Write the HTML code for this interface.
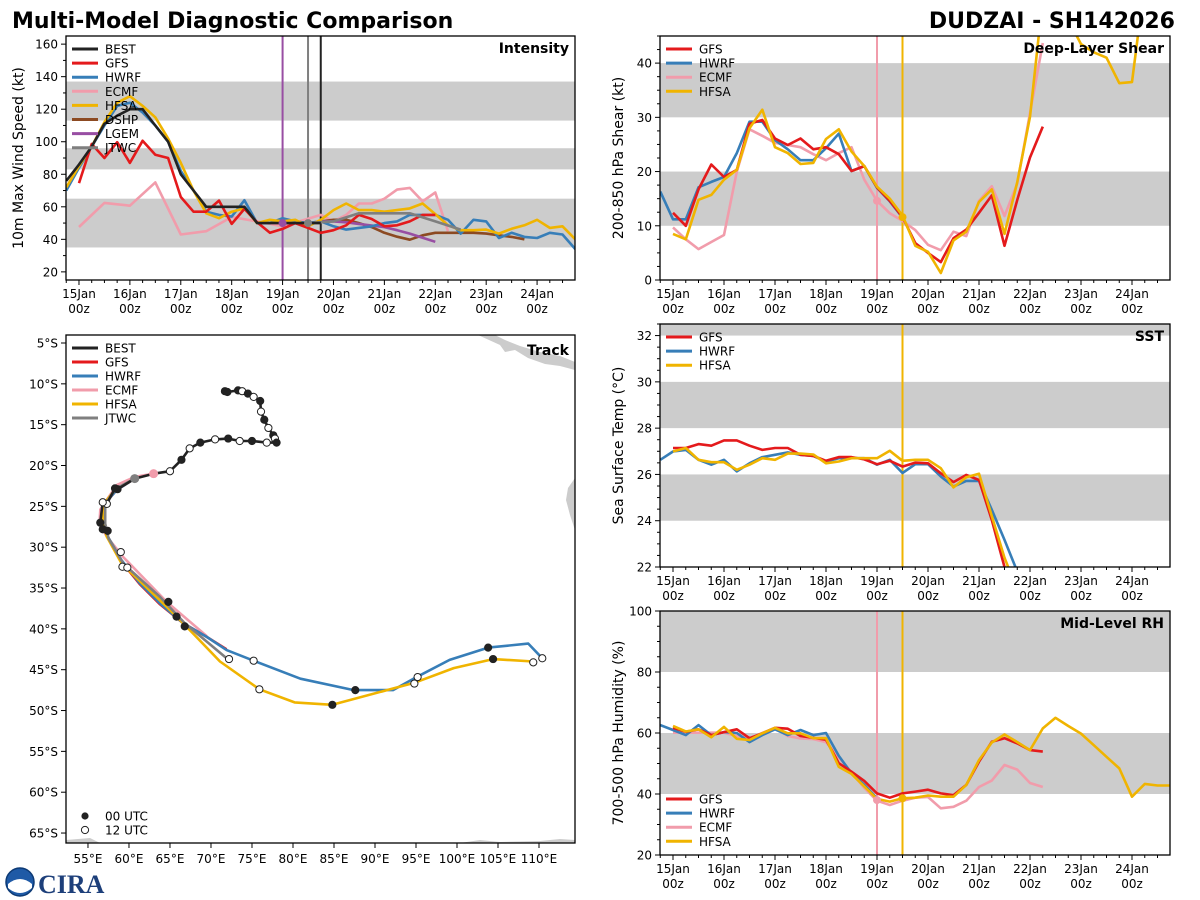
<!DOCTYPE html>
<html><head><meta charset="utf-8"><style>
html,body{margin:0;padding:0;background:#fff;}
svg{display:block;font-family:"DejaVu Sans","Liberation Sans",sans-serif;}
</style></head><body>
<svg id="fig" width="1200" height="900" viewBox="0 0 1200 900" xmlns="http://www.w3.org/2000/svg">
<rect x="0" y="0" width="1200" height="900" fill="#fff"/>
<text x="12" y="28" font-size="22" font-weight="bold" fill="#000">Multi-Model Diagnostic Comparison</text>
<text x="1175" y="28" font-size="22" font-weight="bold" fill="#000" text-anchor="end">DUDZAI - SH142026</text>
<g id="logo">
<circle cx="20" cy="882" r="14" fill="#1f5aa6"/>
<path d="M8,884 Q20,874 32,884 L32,888 Q20,898 8,888 Z" fill="#fff"/>
<circle cx="20" cy="882" r="14" fill="none" stroke="#0d3a75" stroke-width="1.5"/>
<text x="38" y="893" font-size="26" font-weight="bold" fill="#1d3f7a" font-family="Liberation Serif,serif">CIRA</text>
</g>
<g id="layer"></g>
</svg>
<script>
// ---------- DATA ----------
const dayTicks = [15,16,17,18,19,20,21,22,23,24];
const dayLabels = ['15Jan','16Jan','17Jan','18Jan','19Jan','20Jan','21Jan','22Jan','23Jan','24Jan'];

// Intensity (kt), 6-hourly from given start
const intBestStart = 14.75;
const intBest = [76,86,97,111,116,120,120,110,100,80,70,60,60,60,60,50,50,50,50,50,50];
const intGfsStart = 15.0;
const intGfs = [74.6,98.6,90,99.7,87,100.6,92,90,66,57,57,63.8,49.5,58.7,50.5,44,46.4,50,47,44,45.6,48.6,55,52.5,48,48.6,51,55,55];
const intHwrfStart = 14.75;
const intHwrf = [70,84,97,110,122,124,118,110,100,82,70,57,55,54,64,50,50,53,51,50,51,48,46,47,48,50,51,55,55,55,52,43.5,52,51,40.8,44,41.5,40.8,44,43,34];
const intHfsaStart = 14.75;
const intHfsa = [72,85,97,112,124,128,122,115,102,87,70,56,53,57,59,50,52,51,52,48,52,58,62,58,58,57,58,59,62,55.5,48.6,45.6,45.6,46,43.5,46.5,48.6,52,47,48,40];
const intEcmfTimes = [15,15.5,16,16.5,17,17.5,18,18.5,19,19.5,19.75,20,20.25,20.5,20.75,21,21.25,21.5,21.75,22,22.25];
const intEcmf = [47.6,62.4,60.7,75,43,45,53.7,51,48,52.7,55,51,55,62,62,65,70.6,71.6,63.4,68.8,45];
const intDshpStart = 19.75;
const intDshp = [51,52,52,50,47.5,44,41.6,39.8,42.5,44,44,44,44,43.5,42.5,41.5,40];
const intLgemStart = 19.0;
const intLgem = [50,50,50,51,51,50.5,49.5,48.5,47.5,45.6,43.5,41,38.5];
const intJtwcTimes = [19.5,20,20.5,21,21.5,22,22.5];
const intJtwc = [50,51,56,56,56,51,46];

// Shear (kt)
const shrGfsStart = 15.0;
const shrGfs = [12.4,10,16.7,21.3,19,20.3,28.8,29.5,26.1,24.9,26.1,24.1,24.5,23.2,20.1,21,17.1,14.6,11.6,6.8,5,3.3,7.7,9.3,12.4,15.6,6.3,14.8,22.6,28.3];
const shrHwrfStart = 14.75;
const shrHwrf = [16.3,11.2,11.2,17.1,18.1,19,23.4,29.2,29.2,25.8,24.1,22.1,22.1,24.3,27,20.1,21,17,14.5,11.5];
const shrEcmfStart = 15.0;
const shrEcmf = [9.7,7.5,5.7,7,8.3,20,27.8,26.6,25.3,24.9,24.5,23.2,22.1,23.4,24.5,18.5,14.6,12.3,10.9,9.2,6.5,5.5,8.9,8.1,14.6,17.3,11.8,17.8,30.8,43.7];
const shrHfsaStart = 15.0;
const shrHfsa = [8.5,7.5,14.8,15.7,18.5,20.3,28,31.4,24.5,23.4,21.4,21.6,26,27.8,23.7,21,17.2,15,11.9,6.3,5.2,1.3,7.3,8.9,14.4,16.7,8.5,18.1,30.1,52,55,48,43.5,42,41,36.3,36.5,55];

// SST (C)
const sstGfsStart = 15.0;
const sstGfs = [27.14,27.14,27.31,27.24,27.47,27.47,27.24,27.06,27.14,27.14,26.85,26.8,26.59,26.75,26.75,26.65,26.44,26.59,26.34,26.51,26.48,26.05,25.67,25.98,25.76,24.03,22.0,19.5];
const sstHwrfStart = 14.75;
const sstHwrf = [26.63,26.99,27.06,26.63,26.42,26.63,26.13,26.48,26.75,26.85,26.95,26.85,26.8,26.56,26.7,26.7,26.7,26.42,26.63,26.06,26.44,26.44,25.91,25.48,25.72,25.72,24.47,23.17,21.8];
const sstHfsaStart = 15.0;
const sstHfsa = [26.99,27.14,26.63,26.53,26.53,26.2,26.42,26.7,26.63,26.9,26.9,26.86,26.48,26.56,26.7,26.7,26.7,27.02,26.59,26.63,26.63,26.27,25.44,25.88,26.03,24.2,22.4,21];

// Mid-level RH (%)
const rhGfsStart = 15.0;
const rhGfs = [61.7,60.4,61.2,59.3,60.3,61.2,58.3,59.9,61.7,61.4,59,58.4,57.8,50.1,47.3,44.3,40.2,38.8,40.2,40.8,41.4,40.2,39.6,43,50.6,57.1,58.3,56.6,54.4,53.9];
const rhHwrfStart = 14.75;
const rhHwrf = [62.6,61,59.3,62.6,59.3,60.3,60,57,59.3,61.2,59.3,61,59.3,60,52.5,46.8,43,38.6];
const rhEcmfStart = 15.0;
const rhEcmf = [60.1,60.1,60.1,60.1,60.1,59,58.2,60,61.7,59,58.2,58,57,52,47,42,37.8,36.4,37.8,38.8,39,35.3,35.8,37.8,42.3,44.4,49.5,48,43.6,42.3];
const rhHfsaStart = 15.0;
const rhHfsa = [62.3,60.5,61.2,58.6,62,58.1,57.7,59.9,61.7,59.9,59.9,58.3,58.3,48.9,46.6,42.5,38.4,37.5,38.6,38.8,39.5,39.1,39.1,43,51.1,56.9,59.5,57,54.4,61.5,65,62.3,59.8,56,52.2,48.4,39.1,43.3,42.8,42.8];

// Track (lon E, lat negative = S)
const bestLon = [71.7,72.0,73.3,73.8,74.5,75.2,76.0,76.1,76.5,77.0,77.6,77.8,78.0,76.8,75.0,73.5,72.1,70.5,68.7,67.4,66.4,65.0,63.0,60.7,58.6,58.3,57.3,56.8,56.5,56.8,57.4];
const bestLat = [-10.9,-11.0,-10.8,-10.9,-11.2,-11.6,-12.1,-13.4,-14.4,-15.4,-16.3,-16.7,-17.2,-17.2,-17.0,-17.0,-16.7,-16.8,-17.2,-17.9,-19.3,-20.7,-21.0,-21.6,-22.9,-22.8,-24.7,-24.5,-27.0,-27.8,-28.0];
const bestMark = [1,1,1,0,1,0,1,0,1,0,1,0,1,0,1,0,1,0,1,0,1,0,-1,-1,1,1,0,0,1,1,1];
const gfsTrkLon = [60.7,58.5,57.1,56.9,57.3,59.1,61.3,63.8,66.6,69.5,71.9];
const gfsTrkLat = [-21.6,-23.0,-24.6,-27.1,-28.5,-31.8,-34.5,-37.0,-39.3,-41.0,-42.5];
const hwrfTrkLon = [60.7,58.5,57.1,56.9,57.3,59.1,61.3,63.8,66.6,69.5,71.9,75.2,80.9,87.4,92.2,94.7,99.1,103.8,108.7,110.4];
const hwrfTrkLat = [-21.6,-23.0,-24.6,-27.1,-28.5,-31.6,-34.4,-36.9,-39.3,-41.0,-42.6,-43.9,-46.1,-47.5,-47.5,-46.1,-43.8,-42.3,-41.8,-43.6];
const ecmfTrkLon = [63.0,60.7,58.5,56.5,56.4,57.3,59.3,64.6,69.5];
const ecmfTrkLat = [-21.0,-21.4,-22.4,-25.4,-27.1,-28.7,-31.2,-36.7,-40.9];
const hfsaTrkLon = [60.7,58.3,57.0,56.8,57.3,59.1,64.6,66.6,71.1,75.9,80.2,84.8,92.2,94.8,99.6,104.4,109.3];
const hfsaTrkLat = [-21.6,-23.0,-24.6,-27.1,-28.7,-32.0,-37.3,-39.3,-44.0,-47.4,-49.0,-49.3,-47.3,-46.6,-44.8,-43.7,-44.0];
const jtwcTrkLon = [60.7,58.3,57.1,57.1,57.5,59.3,63.8,66.8,71.9];
const jtwcTrkLat = [-21.6,-22.9,-24.8,-27.1,-28.9,-32.0,-36.1,-39.3,-43.6];
const fcMarkLon = [59.0,59.2,59.8,64.8,65.8,66.8,72.2,75.2,75.9,87.6,84.8,95.2,94.8,103.8,104.4,109.3,110.4];
const fcMarkLat = [-30.6,-32.4,-32.5,-36.7,-38.5,-39.7,-43.7,-43.9,-47.4,-47.5,-49.3,-45.9,-46.7,-42.3,-43.7,-44.1,-43.6];
const fcMarkType = [0,0,0,1,1,1,0,0,0,1,1,0,0,1,1,0,0];

const C = {BEST:'#222222',GFS:'#e41a1c',HWRF:'#377eb8',ECMF:'#f19cab',HFSA:'#f0b400',DSHP:'#8c4a22',LGEM:'#984ea3',JTWC:'#7f7f7f'};

// ---------- DRAW ----------
const NS='http://www.w3.org/2000/svg';
const layer=document.getElementById('layer');
function mk(tag,attrs,parent){const e=document.createElementNS(NS,tag);for(const k in attrs)e.setAttribute(k,attrs[k]);(parent||layer).appendChild(e);return e;}
function txt(x,y,s,size,anchor,parent,extra){const e=mk('text',Object.assign({x:x,y:y,'font-size':size,'text-anchor':anchor||'start',fill:'#000'},extra||{}),parent);e.textContent=s;return e;}
function seq(start,vals){return vals.map((v,i)=>start+i*0.25);}

let clipId=0;
function panel(p){
  const g=mk('g',{});
  
  
  const xf=t=>p.x0+(t-p.t0)/(p.t1-p.t0)*(p.x1-p.x0);
  const yf=v=>p.y1-(v-p.v0)/(p.v1-p.v0)*(p.y1-p.y0);
  p.bands.forEach(b=>{
    const lo=Math.max(b[0],p.v0),hi=Math.min(b[1],p.v1);
    const r=mk('rect',{x:p.x0,y:yf(hi),width:p.x1-p.x0,height:yf(lo)-yf(hi),fill:'#cccccc'},g);
    
    
  });
  const cid='clip'+(clipId++);
  const cp=mk('clipPath',{id:cid},g);mk('rect',{x:p.x0,y:p.y0,width:p.x1-p.x0,height:p.y1-p.y0},cp);
  const pg=mk('g',{'clip-path':'url(#'+cid+')'},g);
  (p.vlines||[]).forEach(v=>{
    const l=mk('line',{x1:xf(v.t),x2:xf(v.t),y1:p.y0,y2:p.y1,stroke:v.c,'stroke-width':2},pg);
    
    
  });
  p.series.forEach(s=>{
    const d=s.t.map((t,i)=>(i?'L':'M')+xf(t).toFixed(1)+','+yf(s.v[i]).toFixed(1)).join(' ');
    const l=mk('path',{d:d,fill:'none',stroke:s.c,'stroke-width':2.6,'stroke-linejoin':'round'},pg);
    
    
  });
  (p.dots||[]).forEach(dt=>{
    const c=mk('circle',{cx:xf(dt.t),cy:yf(dt.v),r:4,fill:dt.c},pg);
    
    
  });
  const fr=mk('rect',{x:p.x0,y:p.y0,width:p.x1-p.x0,height:p.y1-p.y0,fill:'none',stroke:'#000','stroke-width':1.3},g);
  
  
  for(let t=Math.ceil(p.t0*4)/4;t<=p.t1;t+=0.25){
    const major=Math.abs(t-Math.round(t))<1e-6;
    mk('line',{x1:xf(t),x2:xf(t),y1:p.y1,y2:p.y1+(major?5:3),stroke:'#000','stroke-width':1},g);
  }
  dayTicks.forEach((d,i)=>{
    const a=txt(xf(d),p.y1+18,dayLabels[i],12,'middle',g);
    
    
    const b=txt(xf(d),p.y1+33,'00z',12,'middle',g);
    
    
  });
  for(let v=Math.ceil(p.v0/p.minor)*p.minor;v<=p.v1+1e-6;v+=p.minor){
    const major=Math.abs(v/p.major-Math.round(v/p.major))<1e-6;
    mk('line',{x1:p.x0,x2:p.x0-(major?5:3),y1:yf(v),y2:yf(v),stroke:'#000','stroke-width':1},g);
    if(major){const t=txt(p.x0-8,yf(v)+4.5,String(v),12,'end',g);
      
      }
  }
  const yt=txt(0,0,p.ylabel,14,'middle',g,{transform:'translate('+p.ylx+','+((p.y0+p.y1)/2)+') rotate(-90)'});
  
  
  const tt=txt(p.x1-6,p.y0+17,p.title,14,'end',g,{'font-weight':'bold'});
  
  
  const lg=mk('g',{},g);
  
  
  p.legend.forEach((n,i)=>{
    const y=p.legY+i*14.1;
    mk('line',{x1:p.x0+6,x2:p.x0+32,y1:y,y2:y,stroke:C[n],'stroke-width':3},lg);
    const t=txt(p.x0+39,y+4.5,n,12,'start',lg);
    
    
  });
}

const T0=14.745,T1=24.745;
panel({name:'intensity-panel',x0:66,x1:575,y0:36,y1:280,t0:T0,t1:T1,v0:15,v1:165,minor:10,major:20,
  bands:[[35,65],[83,96],[113,137]],title:'Intensity',ylabel:'10m Max Wind Speed (kt)',ylx:23,legY:49,
  legend:['BEST','GFS','HWRF','ECMF','HFSA','DSHP','LGEM','JTWC'],
  vlines:[{t:19,c:C.LGEM},{t:19.5,c:C.JTWC},{t:19.75,c:C.BEST}],
  series:[
    {n:'ECMF',c:C.ECMF,t:intEcmfTimes,v:intEcmf},
    {n:'DSHP',c:C.DSHP,t:seq(intDshpStart,intDshp),v:intDshp},
    {n:'LGEM',c:C.LGEM,t:seq(intLgemStart,intLgem),v:intLgem},
    {n:'HWRF',c:C.HWRF,t:seq(intHwrfStart,intHwrf),v:intHwrf},
    {n:'HFSA',c:C.HFSA,t:seq(intHfsaStart,intHfsa),v:intHfsa},
    {n:'GFS',c:C.GFS,t:seq(intGfsStart,intGfs),v:intGfs},
    {n:'JTWC',c:C.JTWC,t:intJtwcTimes,v:intJtwc},
    {n:'BEST',c:C.BEST,t:seq(intBestStart,intBest),v:intBest}],
  dots:[{t:19,v:50,c:C.LGEM},{t:19.5,v:50,c:C.JTWC}]});

panel({name:'shear-panel',x0:660,x1:1170,y0:36,y1:280,t0:T0,t1:T1,v0:0,v1:45,minor:2.5,major:10,
  bands:[[10,20],[30,40]],title:'Deep-Layer Shear',ylabel:'200-850 hPa Shear (kt)',ylx:623,legY:49,
  legend:['GFS','HWRF','ECMF','HFSA'],
  vlines:[{t:19,c:C.ECMF},{t:19.5,c:C.HFSA}],
  series:[
    {n:'ECMF',c:C.ECMF,t:seq(shrEcmfStart,shrEcmf),v:shrEcmf},
    {n:'HWRF',c:C.HWRF,t:seq(shrHwrfStart,shrHwrf),v:shrHwrf},
    {n:'GFS',c:C.GFS,t:seq(shrGfsStart,shrGfs),v:shrGfs},
    {n:'HFSA',c:C.HFSA,t:seq(shrHfsaStart,shrHfsa),v:shrHfsa}],
  dots:[{t:19,v:14.6,c:C.ECMF},{t:19.5,v:11.6,c:C.HFSA}]});

panel({name:'sst-panel',x0:660,x1:1170,y0:324,y1:567,t0:T0,t1:T1,v0:22,v1:32.5,minor:0.5,major:2,
  bands:[[24,26],[28,30],[32,33]],title:'SST',ylabel:'Sea Surface Temp (°C)',ylx:623,legY:337,
  legend:['GFS','HWRF','HFSA'],
  vlines:[{t:19.5,c:C.HFSA}],
  series:[
    {n:'HWRF',c:C.HWRF,t:seq(sstHwrfStart,sstHwrf),v:sstHwrf},
    {n:'GFS',c:C.GFS,t:seq(sstGfsStart,sstGfs),v:sstGfs},
    {n:'HFSA',c:C.HFSA,t:seq(sstHfsaStart,sstHfsa),v:sstHfsa}]});

panel({name:'rh-panel',x0:660,x1:1170,y0:611,y1:855,t0:T0,t1:T1,v0:20,v1:100,minor:5,major:20,
  bands:[[40,60],[80,100]],title:'Mid-Level RH',ylabel:'700-500 hPa Humidity (%)',ylx:623,legY:799,
  legend:['GFS','HWRF','ECMF','HFSA'],
  vlines:[{t:19,c:C.ECMF},{t:19.5,c:C.HFSA}],
  series:[
    {n:'ECMF',c:C.ECMF,t:seq(rhEcmfStart,rhEcmf),v:rhEcmf},
    {n:'HWRF',c:C.HWRF,t:seq(rhHwrfStart,rhHwrf),v:rhHwrf},
    {n:'GFS',c:C.GFS,t:seq(rhGfsStart,rhGfs),v:rhGfs},
    {n:'HFSA',c:C.HFSA,t:seq(rhHfsaStart,rhHfsa),v:rhHfsa}],
  dots:[{t:19,v:38,c:C.ECMF},{t:19.5,v:38.6,c:C.HFSA}]});

// ---------- TRACK ----------
(function(){
  const x0=66,x1=575,y0=335,y1=843,lon0=52.32,lon1=114.39,lat0=-4.02,lat1=-66.22;
  const xf=l=>x0+(l-lon0)/(lon1-lon0)*(x1-x0);
  const yf=l=>y0+(l-lat0)/(lat1-lat0)*(y1-y0);
  const g=mk('g',{});
  
  
  const cp=mk('clipPath',{id:'trkclip'},g);mk('rect',{x:x0,y:y0,width:x1-x0,height:y1-y0},cp);
  const pg=mk('g',{'clip-path':'url(#trkclip)'},g);
  const land=mk('g',{fill:'#cccccc'},pg);
  
  
  mk('path',{d:'M478,335 L500,345 L505,352 L515,350 L528,358 L545,364 L560,366 L575,370 L575,362 L560,356 L540,352 L520,346 L505,340 L495,335 Z'},land);
  mk('path',{d:'M575,478 L568,488 L566,500 L570,515 L575,530 Z'},land);
  mk('path',{d:'M66,840 L90,838 L100,843 L66,843 Z'},land);
  mk('path',{d:'M460,843 L480,840 L500,842 L540,841 L560,839 L575,840 L575,843 Z'},land);
  const trk=[['ECMF',ecmfTrkLon,ecmfTrkLat],['GFS',gfsTrkLon,gfsTrkLat],['HWRF',hwrfTrkLon,hwrfTrkLat],['HFSA',hfsaTrkLon,hfsaTrkLat],['JTWC',jtwcTrkLon,jtwcTrkLat],['BEST',bestLon,bestLat]];
  trk.forEach(s=>{
    const d=s[1].map((l,i)=>(i?'L':'M')+xf(l).toFixed(1)+','+yf(s[2][i]).toFixed(1)).join(' ');
    const p=mk('path',{d:d,fill:'none',stroke:C[s[0]],'stroke-width':2.6,'stroke-linejoin':'round'},pg);
    
    
  });
  bestLon.forEach((l,i)=>{
    if(bestMark[i]<0)return;
    const c=mk('circle',{cx:xf(l),cy:yf(bestLat[i]),r:3.6,fill:bestMark[i]?'#222':'#fff',stroke:'#222','stroke-width':1},pg);
    
    
  });
  fcMarkLon.forEach((l,i)=>{
    const c=mk('circle',{cx:xf(l),cy:yf(fcMarkLat[i]),r:3.6,fill:fcMarkType[i]?'#222':'#fff',stroke:'#222','stroke-width':1},pg);
    
    
  });
  let c1=mk('circle',{cx:xf(63.0),cy:yf(-21.0),r:4.5,fill:C.ECMF},pg);
  
  
  let c2=mk('circle',{cx:xf(60.7),cy:yf(-21.6),r:4.5,fill:C.JTWC},pg);
  
  
  const fr=mk('rect',{x:x0,y:y0,width:x1-x0,height:y1-y0,fill:'none',stroke:'#000','stroke-width':1.3},g);
  
  
  for(let lon=55;lon<=110;lon+=5){
    mk('line',{x1:xf(lon),x2:xf(lon),y1:y1,y2:y1+5,stroke:'#000'},g);
    const t=txt(xf(lon),y1+20,lon+'°E',12,'middle',g);
    
    
  }
  for(let lat=5;lat<=65;lat+=5){
    mk('line',{x1:x0,x2:x0-5,y1:yf(-lat),y2:yf(-lat),stroke:'#000'},g);
    const t=txt(x0-8,yf(-lat)+4.5,lat+'°S',12,'end',g);
    
    
  }
  const tt=txt(x1-6,y0+20,'Track',14,'end',g,{'font-weight':'bold'});
  
  
  const lg=mk('g',{},g);
  
  
  ['BEST','GFS','HWRF','ECMF','HFSA','JTWC'].forEach((n,i)=>{
    const y=348+i*14;
    mk('line',{x1:72,x2:98,y1:y,y2:y,stroke:C[n],'stroke-width':3},lg);
    const t=txt(105,y+4.5,n,12,'start',lg);
    
    
  });
  const ml=mk('g',{},g);
  
  
  mk('circle',{cx:85,cy:816,r:3.6,fill:'#222'},ml);
  txt(105,820.5,'00 UTC',12,'start',ml);
  mk('circle',{cx:85,cy:830,r:3.6,fill:'#fff',stroke:'#222'},ml);
  txt(105,834.5,'12 UTC',12,'start',ml);
})();
</script>
</body></html>
